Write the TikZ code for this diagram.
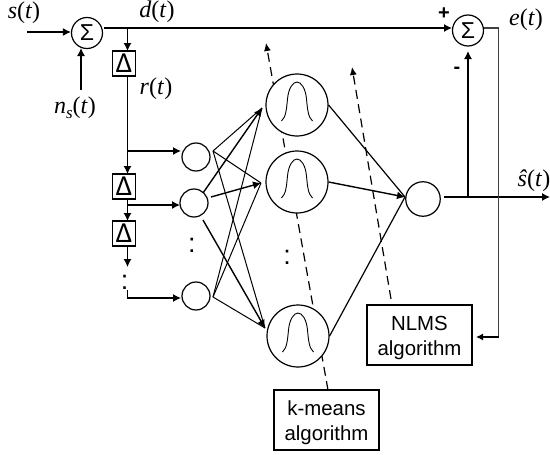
\documentclass[tikz,border=0pt]{standalone}
\usepackage{fontspec}
\setmainfont{Liberation Sans}
\newfontfamily\tmsfont{Liberation Serif}
\newfontfamily\dltfont{Carlito}
\usetikzlibrary{arrows.meta}
\newcommand{\vsig}[1]{{\tmsfont\fontsize{24}{26}\selectfont\textit{#1}(\textit{t})}}
\begin{document}
\begin{tikzpicture}[x=1pt,y=-1pt,line width=1.2pt,
  >={Latex[length=8pt,width=8pt]},
  sumnode/.style={circle,draw,minimum size=31pt,inner sep=0pt,font=\fontsize{23}{23}\selectfont},
  delaybox/.style={draw,line width=1.4pt,minimum width=23.5pt,minimum height=25pt,inner sep=0pt,font=\dltfont\fontsize{29}{29}\selectfont},
  inputnode/.style={circle,draw,minimum size=28pt,inner sep=0pt},
  rbfnode/.style={circle,draw,minimum size=62pt,inner sep=0pt},
  outnode/.style={circle,draw,minimum size=34.5pt,inner sep=0pt},
  algobox/.style={draw,minimum width=105pt,minimum height=60pt,inner sep=0pt,align=center,font=\fontsize{20.4}{24.5}\selectfont},
  sig/.style={inner sep=0pt},
  vdots/.style={inner sep=0pt,font=\fontsize{27}{27}\selectfont},
  thinlink/.style={line width=1pt},
  thicklink/.style={line width=1.4pt},
  dashline/.style={line width=1.2pt,dash pattern=on 9pt off 5.5pt}]
\useasboundingbox (0,0) rectangle (550,455);

% dashed guides (behind the circles)
\node[algobox] (kmeans) at (326.5,420) {\rule{0pt}{20pt}k-means\\algorithm};
\node[algobox] (nlms) at (419.5,335) {\rule{0pt}{20pt}NLMS\\algorithm};
\coordinate (kmtip) at (266,43);
\coordinate (nltip) at (352,67);
\coordinate (kmstart) at (328,390);
\coordinate (nlstart) at (391,299);
\draw[dashline,-{Latex[length=8pt,width=7pt]}] (kmstart) -- (kmtip);
\draw[dashline,-{Latex[length=8pt,width=7pt]}] (nlstart) -- (nltip);

% nodes
\node[sumnode] (s1) at (87,33) {Σ};
\node[sumnode] (s2) at (468,30.5) {Σ};
\node[delaybox] (d1) at (124,63.5) {Δ};
\node[delaybox] (d2) at (124,186.5) {Δ};
\node[delaybox] (d3) at (124,233.5) {Δ};
\node[inputnode,fill=white] (i1) at (196,157) {};
\node[inputnode,fill=white] (i2) at (194,203) {};
\node[inputnode,fill=white] (i3) at (196,296) {};
\node[rbfnode,fill=white] (g1) at (297,105) {};
\node[rbfnode,fill=white] (g2) at (297,182) {};
\node[rbfnode,fill=white] (g3) at (298,336) {};
\node[outnode] (o) at (423,199) {};

% gaussian curves
\foreach \g in {g1,g2,g3}{
  \draw[line width=0.9pt] ([shift={(-15.5,16)}]\g.center)
     .. controls ([shift={(-11,12)}]\g.center) and ([shift={(-10.5,4)}]\g.center) .. ([shift={(-9.5,-6)}]\g.center)
     .. controls ([shift={(-8.5,-17)}]\g.center) and ([shift={(-4,-23)}]\g.center) .. ([shift={(0,-23)}]\g.center)
     .. controls ([shift={(4,-23)}]\g.center) and ([shift={(8.5,-17)}]\g.center) .. ([shift={(9.5,-6)}]\g.center)
     .. controls ([shift={(10.5,4)}]\g.center) and ([shift={(11,12)}]\g.center) .. ([shift={(15.5,16)}]\g.center);
}

% named points
\coordinate (sin) at (27,32);
\coordinate (nin) at (81,90);
\coordinate (nend) at (81,48);
\coordinate (dtap) at (127.5,28);
\coordinate (s1out) at (104,28);
\coordinate (s2in) at (452,28);
\coordinate (tap1) at (127.5,151);
\coordinate (tap2) at (127.5,205);
\coordinate (d1b) at (127.5,76);
\coordinate (d1t) at (127.5,51);
\coordinate (d2t) at (127.5,174);
\coordinate (d2b) at (127.5,199);
\coordinate (d3t) at (127.5,221);
\coordinate (d3b) at (127.5,246);
\coordinate (d3end) at (127.5,267);
\coordinate (ladd) at (127.5,290);
\coordinate (lcorn) at (127.5,298);
\coordinate (i1in) at (181,151);
\coordinate (i2in) at (180,205);
\coordinate (i3in) at (181,298);

\draw[->] (sin) -- (s1.west |- sin);
\draw[->] (nin) -- (nend);
\draw (s1out) -- (dtap);
\draw[->] (dtap) -- (s2in);
\draw[->] (dtap) -- (d1t);
\draw[->] (d1b) -- (d2t);
\draw[->] (tap1) -- (i1in);
\draw[->] (d2b) -- (d3t);
\draw[->] (tap2) -- (i2in);
\draw[->] (d3b) -- (d3end);
\draw[->] (ladd) -- (lcorn) -- (i3in);

% input to RBF connections
\coordinate (i1o) at (213,151);
\coordinate (i2a) at (203,193);
\coordinate (i2b) at (211,197);
\coordinate (i2c) at (203,220);
\coordinate (i3o) at (213,297);
\coordinate (g1t) at (262,108);
\coordinate (g2t) at (261,183);
\coordinate (g3t) at (265,328);
\draw[thinlink] (i1o) -- (g1t);
\draw[thinlink] (i1o) -- (g2t);
\draw[thinlink] (i1o) -- (g3t);
\draw[thinlink] (i3o) -- (g1t);
\draw[thinlink] (i3o) -- (g2t);
\draw[thinlink] (i3o) -- (g3t);
\draw[thicklink,->] (i2a) -- (g1t);
\draw[thicklink,->] (i2b) -- (g2t);
\draw[thicklink,->] (i2c) -- (g3t);

% RBF to output
\coordinate (ot) at (405,197);
\draw (g1.east) -- (ot);
\draw (g3.east) -- (ot);
\draw[thicklink,->] (g2.east) -- (ot);

% output and feedback
\coordinate (oout) at (444,197);
\coordinate (obr) at (468,197);
\coordinate (oend) at (550,197);
\coordinate (s2b) at (468,51);
\draw[->] (oout) -- (oend);
\draw[->,line width=1.3pt] (obr) -- (s2b);
\coordinate (ecorn) at (498.5,28);
\coordinate (edown) at (498.5,337);
\coordinate (etip) at (476,337);
\draw[line width=1.1pt,black!75] (s2.east |- ecorn) -- (ecorn) -- (edown);
\draw[-{Latex[length=7pt,width=7pt]}] (edown) -- (etip);

% dots
\node[vdots] (dots1) at (124.5,282) {:};
\node[vdots] (dots2) at (192,245) {:};
\node[vdots] (dots3) at (287,257) {:};

% labels
\node[sig] (ls) at (24,13) {\vsig{s}};
\node[sig] (ld) at (157,12) {\vsig{d}};
\node[sig] (lr) at (156,89) {\vsig{r}};
\node[sig] (lns) at (75,108) {{\tmsfont\fontsize{24}{26}\selectfont\textit{n}\raisebox{-5pt}{\fontsize{17}{17}\selectfont\textit{s}}(\textit{t})}};
\node[sig] (le) at (526,20) {\vsig{e}};
\node[sig] (lsh) at (534,181) {{\tmsfont\fontsize{24}{26}\selectfont\textit{\^{s}}(\textit{t})}};
\node[sig,font=\fontsize{20}{20}\selectfont\bfseries] (lp) at (444,14) {+};
\node[sig,font=\fontsize{20}{20}\selectfont\bfseries] (lm) at (457,70) {-};
\end{tikzpicture}
\end{document}
